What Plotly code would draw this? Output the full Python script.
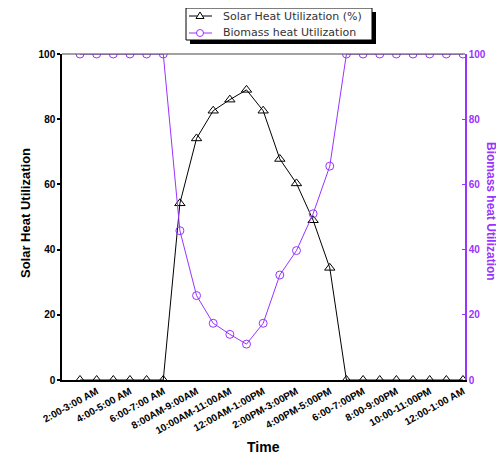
import plotly.graph_objects as go

# ---------------- data ----------------
hours = [
    "1:00-2:00 AM", "2:00-3:00 AM", "3:00-4:00 AM", "4:00-5:00 AM",
    "5:00-6:00 AM", "6:00-7:00 AM", "7:00-8:00 AM", "8:00AM-9:00AM",
    "9:00-10:00 AM", "10:00AM-11:00AM", "11:00AM-12:00PM", "12:00AM-1:00PM",
    "1:00-2:00 PM", "2:00PM-3:00PM", "3:00-4:00 PM", "4:00PM-5:00PM",
    "5:00-6:00 PM", "6:00-7:00PM", "7:00-8:00 PM", "8:00-9:00PM",
    "9:00-10:00 PM", "10:00-11:00PM", "11:00-12:00 PM", "12:00-1:00 AM",
]
solar = [0, 0, 0, 0, 0, 0, 54.2, 74.1, 82.6, 86.0, 89.0, 82.6,
         67.8, 60.3, 49.0, 34.4, 0, 0, 0, 0, 0, 0, 0, 0]
biomass = [100, 100, 100, 100, 100, 100, 45.8, 25.9, 17.4, 14.0, 11.0, 17.4,
           32.2, 39.7, 51.0, 65.6, 100, 100, 100, 100, 100, 100, 100, 100]
tick_hours = hours[1::2]
tick_labels = ["2:00-3:00 AM", "4:00-5:00 AM", "6:00-7:00 AM", "8:00AM-9:00AM",
               "10:00AM-11:00AM", "12:00AM-1:00PM", "2:00PM-3:00PM", "4:00PM-5:00PM",
               "6:00-7:00PM", "8:00-9:00PM", "10:00-11:00PM", "12:00-1:00 AM"]
y_ticks = [0, 20, 40, 60, 80, 100]
series_names = ["Solar Heat Utilization (%)", "Biomass heat Utilization"]

PURPLE = "#9933ff"
FONT = "Liberation Sans, Arial, sans-serif"

# page geometry: the html body adds an 8 px margin
OFF = 8
W, H = 504 - OFF, 459 - OFF
L, T = 62 - OFF, 54 - OFF
R = W - (465 - OFF)
B = H - (380 - OFF)
PW, PH = W - L - R, H - T - B


def px_x(px):
    return (px - OFF - L) / PW


def px_y(py):
    return (H - B - (py - OFF)) / PH


fig = go.Figure()
fig.add_trace(go.Scatter(
    x=hours, y=solar, name=series_names[0],
    mode="lines+markers", cliponaxis=True,
    line=dict(color="black", width=1),
    marker=dict(symbol="triangle-up-open", size=9, color="black", line=dict(width=1)),
))
# biomass drawn on the primary y scale (identical 0-100 range)
fig.add_trace(go.Scatter(
    x=hours, y=biomass, name=series_names[1],
    mode="lines+markers", cliponaxis=True,
    line=dict(color=PURPLE, width=1),
    marker=dict(symbol="circle-open", size=8, color=PURPLE, line=dict(width=1)),
))
# carrier for the right-hand (biomass) axis
fig.add_trace(go.Scatter(
    x=hours, y=biomass, yaxis="y2", mode="lines", showlegend=False,
    hoverinfo="skip", line=dict(color="rgba(0,0,0,0)", width=0),
))

# ---------- boxed legend with drop shadow (Origin style) ----------
LX0, LX1, LY0, LY1 = 186, 372, 8, 40
legend_rows = [(16, "black", "tri"), (33, PURPLE, "circ")]
shapes = [
    dict(type="line", xref="paper", yref="paper", x0=0, x1=1, y0=1, y1=1,
         line=dict(color="#444", width=1)),
    dict(type="rect", xref="paper", yref="paper",
         x0=px_x(LX0 + 4), x1=px_x(LX1 + 4), y0=px_y(LY1 + 4), y1=px_y(LY0 + 4),
         fillcolor="black", line=dict(width=0), layer="above"),
    dict(type="rect", xref="paper", yref="paper",
         x0=px_x(LX0), x1=px_x(LX1), y0=px_y(LY1), y1=px_y(LY0),
         fillcolor="white", line=dict(color="black", width=1), layer="above"),
]
annotations = []
for (cy, col, kind), name in zip(legend_rows, series_names):
    shapes.append(dict(type="line", xref="paper", yref="paper",
                       x0=px_x(189), x1=px_x(212), y0=px_y(cy), y1=px_y(cy),
                       line=dict(color=col, width=1), layer="above"))
    if kind == "tri":
        path = "M {} {} L {} {} L {} {} Z".format(
            px_x(196), px_y(cy + 2.5), px_x(204), px_y(cy + 2.5), px_x(200), px_y(cy - 4))
        shapes.append(dict(type="path", xref="paper", yref="paper", path=path,
                           fillcolor="white", line=dict(color=col, width=1), layer="above"))
    else:
        shapes.append(dict(type="circle", xref="paper", yref="paper",
                           x0=px_x(196.5), x1=px_x(203.5), y0=px_y(cy + 3.5), y1=px_y(cy - 3.5),
                           fillcolor="white", line=dict(color=col, width=1), layer="above"))
    annotations.append(dict(text=name, xref="paper", yref="paper",
                            x=px_x(221), y=px_y(cy), xanchor="left", yanchor="middle",
                            showarrow=False,
                            font=dict(size=11, family="DejaVu Sans, sans-serif", color="#333")))

annotations += [
    dict(text="Solar Heat Utilization", xref="paper", yref="paper",
         x=px_x(25), y=px_y(213), xanchor="center", yanchor="middle",
         textangle=-90, showarrow=False,
         font=dict(size=13, family=FONT, weight="bold", color="black")),
    dict(text="Biomass heat Utilization", xref="paper", yref="paper",
         x=px_x(491), y=px_y(211), xanchor="center", yanchor="middle",
         textangle=90, showarrow=False,
         font=dict(size=12, family=FONT, weight="bold", color=PURPLE)),
    dict(text="Time", xref="paper", yref="paper",
         x=px_x(263), y=px_y(447), xanchor="center", yanchor="middle", showarrow=False,
         font=dict(size=14, family=FONT, weight="bold", color="black")),
]

fig.update_layout(
    width=W, height=H,
    margin=dict(l=L, r=R, t=T, b=B, pad=0, autoexpand=False),
    paper_bgcolor="white", plot_bgcolor="white",
    font=dict(family=FONT, size=9, color="black"),
    showlegend=False,
    xaxis=dict(
        type="category", categoryorder="array", categoryarray=hours,
        range=[-1.08, 23.12],
        tickmode="array", tickvals=tick_hours, ticktext=tick_labels,
        tickangle=-29, tickfont=dict(size=10, family=FONT, weight="bold"),
        showline=True, linecolor="black", linewidth=1.5, mirror=False,
        ticks="", showgrid=False, zeroline=False,
    ),
    yaxis=dict(
        range=[0, 100], tickvals=y_ticks,
        tickfont=dict(size=10, family=FONT, weight="bold"),
        showline=True, linecolor="black", linewidth=1.5,
        ticks="outside", ticklen=3, tickcolor="black", tickwidth=1.5,
        showgrid=False, zeroline=False,
    ),
    yaxis2=dict(
        range=[0, 100], tickvals=y_ticks, overlaying="y", side="right",
        tickfont=dict(size=10, family=FONT, color=PURPLE, weight="bold"),
        showline=True, linecolor=PURPLE, linewidth=1.5,
        ticks="inside", ticklen=3, tickcolor=PURPLE,
        showgrid=False, zeroline=False,
    ),
    shapes=shapes,
    annotations=annotations,
)

fig.write_html("out.html")
